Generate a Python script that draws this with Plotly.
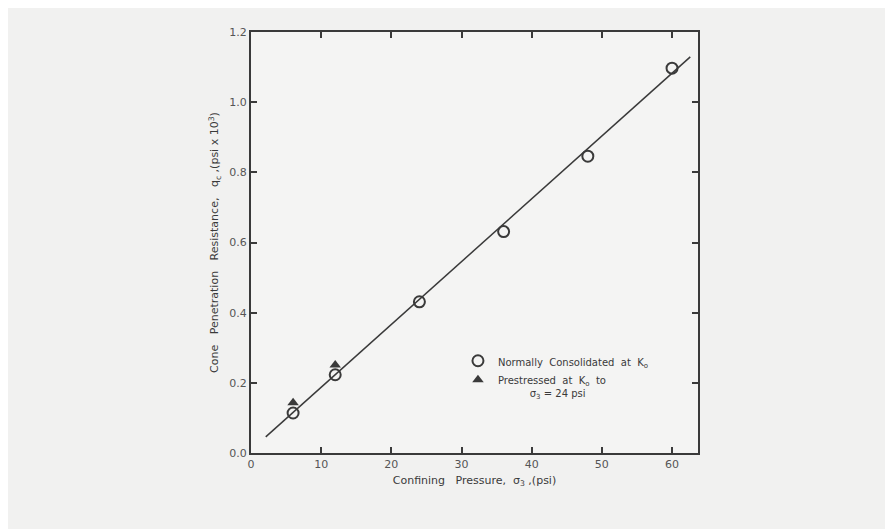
import plotly.graph_objects as go

# Data
nc_x = [6, 12, 24, 36, 48, 60]
nc_y = [0.114, 0.223, 0.431, 0.631, 0.846, 1.097]
ps_x = [6, 12]
ps_y = [0.143, 0.251]
fit_x = [2.1, 62.6]
fit_y = [0.046, 1.129]

x_ticks = [0, 10, 20, 30, 40, 50, 60]
y_ticks = [0.0, 0.2, 0.4, 0.6, 0.8, 1.0, 1.2]
y_tick_labels = ["0.0", "0.2", "0.4", "0.6", "0.8", "1.0", "1.2"]

ink = "#3a3a3a"
tick_ink = "#555555"
family = "DejaVu Sans, Verdana, sans-serif"
fnt = dict(family=family, size=10, color=ink)
tickfnt = dict(family=family, size=11, color=tick_ink)

fig = go.Figure()
fig.add_trace(go.Scatter(x=fit_x, y=fit_y, mode="lines", line=dict(color=ink, width=1.5),
                         showlegend=False, hoverinfo="skip"))
fig.add_trace(go.Scatter(x=ps_x, y=ps_y, mode="markers",
                         marker=dict(symbol="triangle-up", size=10, color=ink),
                         name="Prestressed  at  K<sub>o</sub>  to<br>\u00a0\u00a0\u00a0\u00a0\u00a0\u00a0\u00a0\u00a0\u00a0\u00a0σ<sub>3</sub> = 24 psi"))
fig.add_trace(go.Scatter(x=nc_x, y=nc_y, mode="markers",
                         marker=dict(symbol="circle-open", size=11, color=ink, line=dict(width=2, color=ink)),
                         name="Normally  Consolidated  at  K<sub>o</sub>"))

axis_common = dict(showline=True, linecolor=ink, linewidth=2, mirror="ticks",
                   ticks="inside", ticklen=6, tickwidth=1.5, tickcolor=ink,
                   showgrid=False, zeroline=False, tickfont=tickfnt)

fig.update_layout(
    width=885, height=521,
    margin=dict(l=243, r=195, t=24, b=76),
    paper_bgcolor="#f1f1f0", plot_bgcolor="#f4f4f3",
    font=fnt,
    xaxis=dict(range=[0, 63.7], tickvals=x_ticks, ticktext=[str(v) for v in x_ticks],
               ticklabelstandoff=0,
               title=dict(text="Confining   Pressure,  σ<sub>3</sub> ,(psi)", standoff=6, font=dict(family=family, size=11, color=ink)),
               **axis_common),
    yaxis=dict(range=[0, 1.2], tickvals=y_ticks, ticktext=y_tick_labels,
               title=dict(text="Cone   Penetration   Resistance,   q<sub>c</sub> ,(psi x 10<sup>3</sup>)", standoff=8, font=dict(family=family, size=11, color=ink)),
               **axis_common),
    legend=dict(x=0.463, y=0.25, xanchor="left", yanchor="top", bgcolor="rgba(0,0,0,0)",
                font=dict(family=family, size=10, color=ink),
                traceorder="reversed", tracegroupgap=0, valign="top"),
)

fig.write_html("out.html")
